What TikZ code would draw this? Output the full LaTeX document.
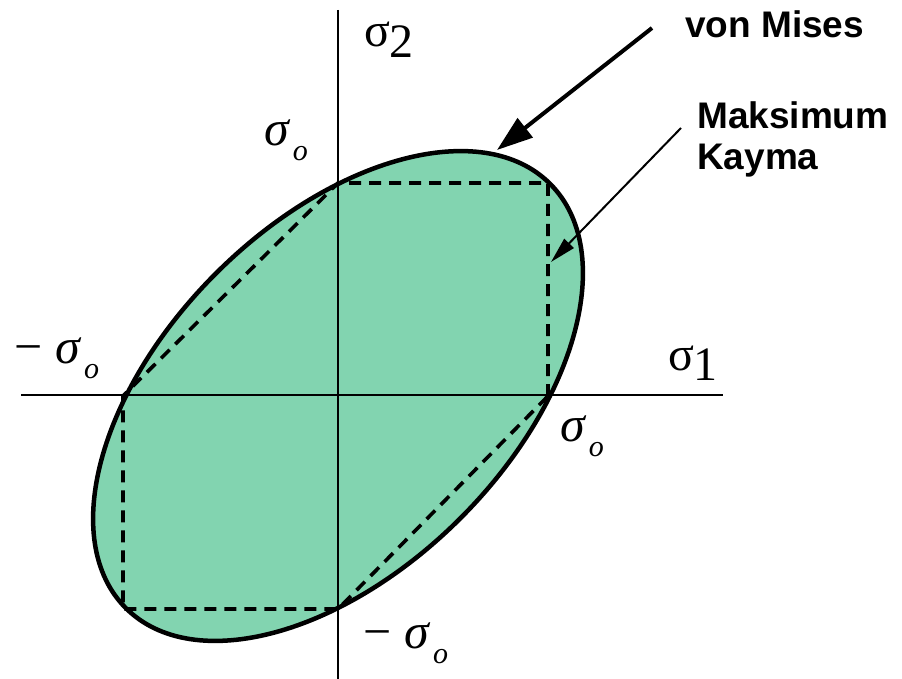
\documentclass[tikz,border=0pt]{standalone}
\usepackage{fontspec}
\setmainfont{Liberation Sans}
\newfontfamily\grk{Liberation Serif}
\usetikzlibrary{arrows.meta}
\definecolor{vmfill}{HTML}{82D4B0}
\tikzset{
  axisline/.style={line width=2.6pt},
  vmline/.style={line width=4.5pt},
  trline/.style={line width=3.6pt, dash pattern=on 12pt off 8pt},
  lbl/.style={font=\bfseries\fontsize{37}{40}\selectfont, inner sep=0pt},
  axlbl/.style={font=\grk\fontsize{48}{48}\selectfont, inner sep=0pt},
  sglbl/.style={font=\grk\fontsize{50}{50}\selectfont, inner sep=0pt},
}
\newcommand{\sgo}{\textit{σ}\hspace{0.05em}\raisebox{-0.3em}{\fontsize{30}{30}\selectfont\textit{o}}}
\begin{document}
\begin{tikzpicture}[x=1pt,y=-1pt]
\useasboundingbox (0,0) rectangle (902,679);
\coordinate (O) at (338,396);
% von Mises ellipse fill
\begin{scope}[shift={(O)}, rotate=45]
  \fill[vmfill] (0,0) ellipse [x radius=300pt, y radius=173pt];
\end{scope}
% Tresca hexagon
\coordinate (A) at (548,396);
\coordinate (B) at (548,183);
\coordinate (C) at (338,183);
\coordinate (D) at (123,396);
\coordinate (E) at (123,609);
\coordinate (F) at (338,609);
\draw[trline] (A) -- (B) -- (C) -- (D) -- (E) -- (F) -- cycle;
% axes
\coordinate (xl) at (21,395);
\coordinate (xr) at (723,395);
\coordinate (yt) at (338,10);
\coordinate (yb) at (338,679);
\draw[axisline] (xl) -- (xr);
\draw[axisline] (yt) -- (yb);
% ellipse outline
\begin{scope}[shift={(O)}, rotate=45]
  \draw[vmline] (0,0) ellipse [x radius=300pt, y radius=173pt];
\end{scope}
% axis labels
\node[axlbl] (s2) at (389,40) {σ\raisebox{-0.22em}{2}};
\node[axlbl] (s1) at (693,363) {σ\raisebox{-0.22em}{1}};
% sigma_o labels
\node[sglbl] (so1) at (286,140) {\sgo};
\node[sglbl] (so2) at (57,358) {−\hspace{0.25em}\sgo};
\node[sglbl] (so3) at (582,436) {\sgo};
\node[sglbl] (so4) at (406,643) {−\hspace{0.25em}\sgo};
% text labels
\node[lbl, anchor=west] (vm) at (685,24) {von Mises};
\node[lbl, anchor=west] (mk) at (697,115) {Maksimum};
\node[lbl, anchor=west] (ky) at (697,161) {Kayma};
% arrows
\coordinate (vmtail) at (652,28);
\coordinate (vmtip) at (497,150);
\draw[line width=4pt, -{Triangle[length=36pt,width=24pt]}] (vmtail) -- (vmtip);
\coordinate (mktail) at (681,128);
\coordinate (mktip) at (551,262);
\draw[line width=2pt, -{Triangle[length=26pt,width=13pt]}] (mktail) -- (mktip);
\end{tikzpicture}
\end{document}
